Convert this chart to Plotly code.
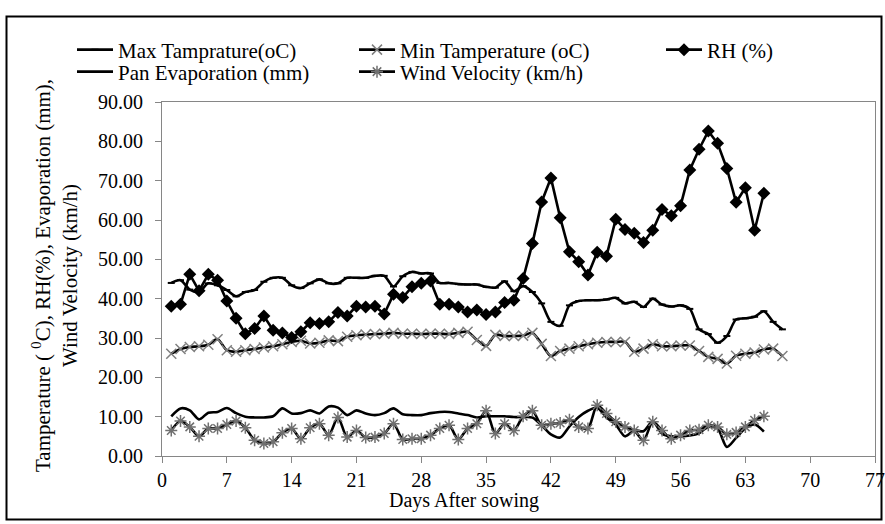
import plotly.graph_objects as go

# ---------------- data ----------------
days_temp = list(range(1, 68))
days_other = list(range(1, 66))

max_temp = [44.0, 44.7, 42.3, 41.7, 43.9, 43.4, 42.2, 40.6, 41.7, 42.2,
            44.3, 45.3, 45.3, 43.4, 42.7, 43.9, 44.9, 43.9, 43.9, 45.3,
            45.3, 45.3, 45.8, 45.8, 43.1, 45.7, 46.8, 46.4, 46.4, 44.0,
            44.0, 43.7, 43.6, 43.6, 43.0, 42.8, 44.4, 41.9, 43.2, 41.7,
            38.8, 34.1, 33.1, 38.3, 39.4, 39.6, 39.6, 39.8, 40.2, 38.8,
            39.2, 37.9, 40.0, 38.5, 38.0, 38.3, 37.4, 32.2, 31.0, 28.8,
            30.5, 34.7, 35.0, 35.4, 36.8, 34.1, 32.2]

min_temp = [26.0, 27.2, 27.7, 27.9, 28.3, 29.7, 26.9, 26.5, 26.9, 27.2,
            27.6, 27.9, 28.4, 29.0, 29.3, 28.6, 28.8, 29.4, 29.2, 30.3,
            30.7, 30.9, 31.0, 31.1, 31.3, 31.1, 31.1, 31.0, 31.1, 31.1,
            31.0, 31.3, 31.6, 29.5, 28.0, 30.8, 30.5, 30.5, 30.6, 31.3,
            28.5, 25.4, 26.7, 27.3, 27.9, 28.4, 28.8, 29.0, 29.0, 29.0,
            26.5, 27.3, 28.4, 27.9, 27.9, 28.1, 28.1, 26.7, 25.2, 24.7,
            23.5, 25.5, 26.0, 26.3, 27.1, 27.3, 25.4]

rh = [38.1, 38.6, 46.2, 42.0, 46.2, 44.7, 39.4, 35.0, 31.1, 32.4,
      35.6, 32.0, 31.3, 30.1, 31.6, 33.9, 33.7, 34.1, 36.5, 35.6,
      38.1, 37.9, 38.1, 36.1, 41.1, 40.3, 43.0, 43.9, 44.5, 38.6,
      38.6, 37.9, 36.6, 37.1, 36.0, 36.6, 39.0, 39.6, 45.1, 54.0,
      64.6, 70.7, 60.6, 51.9, 49.4, 46.0, 51.8, 50.8, 60.2, 57.6,
      56.6, 54.3, 57.4, 62.7, 61.1, 63.6, 72.7, 78.0, 82.6, 79.5,
      73.1, 64.5, 68.2, 57.4, 66.8]

pan_evap = [10.1, 12.1, 11.6, 9.3, 11.0, 11.2, 12.2, 10.9, 10.0, 9.8,
            9.8, 10.1, 12.1, 10.8, 10.9, 11.6, 10.8, 12.6, 12.3, 10.4,
            11.6, 10.8, 10.4, 10.9, 12.1, 10.6, 10.4, 10.4, 10.9, 11.2,
            11.2, 10.8, 10.4, 9.8, 10.1, 10.1, 10.1, 9.9, 9.9, 9.8,
            7.8, 5.5, 4.7, 7.5, 9.9, 11.5, 12.3, 9.8, 8.0, 5.0,
            6.5, 6.3, 8.8, 5.7, 5.0, 5.0, 5.2, 5.8, 7.4, 7.0,
            2.3, 4.6, 7.0, 8.0, 6.2]

wind = [6.5, 8.9, 7.4, 5.0, 7.0, 7.0, 8.0, 8.9, 7.2, 4.0,
        3.2, 3.6, 5.9, 7.0, 4.4, 7.2, 8.2, 5.3, 9.8, 4.8,
        6.5, 4.7, 4.8, 5.7, 8.2, 4.2, 4.4, 4.4, 5.3, 7.0,
        7.8, 4.2, 7.0, 8.2, 11.5, 5.7, 8.2, 6.5, 10.1, 11.5,
        7.8, 8.2, 8.4, 9.2, 7.4, 7.0, 12.9, 10.8, 8.7, 7.4,
        6.5, 4.0, 8.7, 6.5, 4.4, 5.3, 6.5, 6.7, 7.8, 7.4,
        5.5, 6.0, 7.4, 9.1, 10.1]

names = ["Max Tamprature(oC)", "Min Tamperature (oC)", "RH (%)",
         "Pan Evaporation (mm)", "Wind Velocity (km/h)"]

x_ticks = list(range(0, 78, 7))
y_ticks = list(range(0, 91, 10))

# ---------------- style ----------------
FONT = "Liberation Serif"
W, H = 885, 524
ML, MR, MT, MB = 162, 10, 102, 68
PW, PH = W - ML - MR, H - MT - MB
LW = 2.6

def px_x(px):
    return (px - ML) / PW

def px_y(py):
    return (H - MB - py) / PH

fig = go.Figure()

fig.add_trace(go.Scatter(
    x=days_temp, y=max_temp, name=names[0], mode="lines+markers",
    line=dict(color="black", width=LW, shape="spline", smoothing=0.8),
    marker=dict(symbol="line-ew", size=5, color="black",
                line=dict(width=2, color="black")),
    legend="legend"))

fig.add_trace(go.Scatter(
    x=days_temp, y=min_temp, name=names[1], mode="lines+markers",
    line=dict(color="black", width=LW, shape="spline", smoothing=0.8),
    marker=dict(symbol="x-thin", size=10, color="#808080",
                line=dict(width=1.5, color="#808080")),
    legend="legend2"))

fig.add_trace(go.Scatter(
    x=days_other, y=rh, name=names[2], mode="lines+markers",
    line=dict(color="black", width=LW),
    marker=dict(symbol="diamond", size=10, color="black"),
    legend="legend3"))

fig.add_trace(go.Scatter(
    x=days_other, y=pan_evap, name=names[3], mode="lines",
    line=dict(color="black", width=LW, shape="spline", smoothing=0.8),
    legend="legend4"))

fig.add_trace(go.Scatter(
    x=days_other, y=wind, name=names[4], mode="lines+markers",
    line=dict(color="black", width=LW, shape="spline", smoothing=0.8),
    marker=dict(symbol="asterisk", size=10, color="#707070",
                line=dict(width=1.5, color="#707070")),
    legend="legend5"))

def leg(xpx, ypx):
    return dict(x=(xpx - 5) / W, y=1 - ypx / H, xref="container",
                yref="container", xanchor="left", yanchor="middle",
                font=dict(family=FONT, size=21, color="black"),
                bgcolor="rgba(0,0,0,0)", borderwidth=0, itemwidth=36)

axis_common = dict(
    showline=True, linecolor="#868686", linewidth=1, mirror=True,
    ticks="outside", ticklen=6, tickcolor="#868686", tickwidth=1,
    showgrid=False, zeroline=False, automargin=False,
    tickfont=dict(family=FONT, size=20, color="black"),
)

fig.update_layout(
    width=W, height=H,
    margin=dict(l=ML, r=MR, t=MT, b=MB, autoexpand=False),
    paper_bgcolor="white", plot_bgcolor="white",
    font=dict(family=FONT, size=20, color="black"),
    showlegend=True,
    legend=leg(77, 50),
    legend2=leg(359, 50),
    legend3=leg(666, 50),
    legend4=leg(77, 72),
    legend5=leg(359, 72),
    xaxis=dict(range=[0, 77], tickvals=x_ticks, **axis_common),
    yaxis=dict(range=[0, 90], tickvals=y_ticks, tickformat=".2f",
               ticklabelstandoff=8, **axis_common),
    shapes=[dict(type="rect", xref="paper", yref="paper",
                 x0=px_x(6.5), x1=px_x(881.5), y0=px_y(519.5), y1=px_y(16.5),
                 line=dict(color="black", width=2), fillcolor="rgba(0,0,0,0)",
                 layer="above")],
    annotations=[
        dict(text="Days After sowing", xref="paper", yref="paper",
             x=px_x(464), y=px_y(500), xanchor="center", yanchor="middle",
             showarrow=False, font=dict(family=FONT, size=20, color="black")),
        dict(text="Tamperature ( <sup>0</sup>C), RH(%), Evaporation (mm),<br>Wind Velocity (km/h)",
             xref="paper", yref="paper", x=px_x(55), y=px_y(276),
             xanchor="center", yanchor="middle", textangle=-90,
             showarrow=False, font=dict(family=FONT, size=21, color="black")),
    ],
)

fig.write_html("out.html")
